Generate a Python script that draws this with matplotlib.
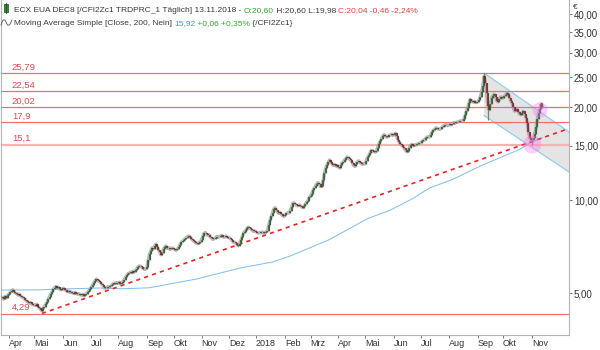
import numpy as np
import pandas as pd
import matplotlib.pyplot as plt
from matplotlib.patches import Polygon, Rectangle
from matplotlib.lines import Line2D

plt.rcParams['font.family'] = ['Liberation Sans Narrow', 'Liberation Sans', 'DejaVu Sans']

# ECX EUA Dec-18 daily closes, one row per month (Mar 24 2017 .. Nov 13 2018)
closes_by_month = [
    [4.85, 4.80, 4.78, 4.88, 4.82, 4.92],
    [4.95, 5.02, 5.08, 5.12, 5.05, 5.00, 4.98, 4.93, 4.96, 4.90, 4.86, 4.84, 4.80, 4.76, 4.70, 4.68, 4.64, 4.66, 4.60, 4.58],
    [4.58, 4.55, 4.60, 4.52, 4.47, 4.42, 4.38, 4.46, 4.52, 4.60, 4.66, 4.78, 4.86, 4.95, 5.05, 5.14, 5.20, 5.25, 5.18, 5.22, 5.15, 5.12, 5.16],
    [5.18, 5.12, 5.10, 5.05, 5.08, 5.02, 5.04, 5.00, 4.98, 5.02, 5.00, 4.96, 4.97, 4.94, 4.92, 4.95, 4.90, 4.93, 4.97, 5.02, 5.08, 5.14],
    [5.22, 5.30, 5.40, 5.48, 5.55, 5.50, 5.45, 5.42, 5.36, 5.30, 5.22, 5.18, 5.20, 5.24, 5.22, 5.26, 5.30, 5.35, 5.38, 5.36, 5.40],
    [5.38, 5.42, 5.36, 5.40, 5.44, 5.52, 5.62, 5.70, 5.78, 5.80, 5.84, 5.82, 5.88, 5.85, 5.92, 6.00, 6.08, 6.12, 6.10, 6.05, 6.00, 5.96, 5.98],
    [6.05, 6.40, 6.70, 6.85, 7.00, 6.95, 7.10, 7.20, 7.05, 6.90, 6.80, 6.65, 6.72, 6.95, 7.05, 7.10, 6.98, 7.02, 6.92, 6.96, 7.00],
    [6.95, 6.90, 6.88, 6.94, 7.05, 7.18, 7.30, 7.36, 7.42, 7.50, 7.55, 7.62, 7.65, 7.60, 7.50, 7.42, 7.36, 7.30, 7.26, 7.22, 7.28, 7.30],
    [7.45, 7.65, 7.80, 7.85, 7.75, 7.70, 7.72, 7.60, 7.52, 7.46, 7.50, 7.55, 7.62, 7.58, 7.60, 7.65, 7.68, 7.62, 7.58, 7.64, 7.60, 7.56],
    [7.55, 7.48, 7.40, 7.32, 7.30, 7.25, 7.18, 7.12, 7.20, 7.40, 7.62, 7.80, 7.90, 7.98, 8.10, 8.18, 8.12, 8.05, 7.98, 7.92, 7.95],
    [7.90, 7.85, 7.82, 7.84, 7.86, 7.88, 7.80, 7.85, 7.90, 7.95, 8.30, 8.60, 8.85, 9.10, 9.35, 9.45, 9.30, 9.15, 9.05, 9.12, 9.00, 8.90, 8.85],
    [8.95, 9.05, 9.10, 9.08, 9.25, 9.50, 9.75, 9.80, 9.70, 9.62, 9.58, 9.65, 9.60, 9.50, 9.45, 9.55, 9.70, 9.86, 9.95, 10.20],
    [10.30, 10.50, 10.75, 10.95, 11.10, 11.30, 11.40, 11.25, 11.05, 11.10, 11.60, 12.20, 12.70, 13.00, 13.25, 13.50, 13.30, 13.10, 12.95, 13.05, 12.90, 12.95],
    [12.80, 12.70, 12.95, 13.20, 13.30, 13.50, 13.65, 13.80, 13.70, 13.55, 13.45, 13.20, 12.95, 12.85, 13.10, 13.30, 13.40, 13.25, 13.15, 13.05, 13.10],
    [13.10, 13.40, 13.75, 13.95, 14.20, 14.50, 14.45, 14.35, 14.30, 14.40, 14.80, 15.20, 15.50, 15.80, 16.10, 16.30, 16.15, 16.00, 16.05, 16.20, 16.25, 16.35, 16.20],
    [16.30, 16.50, 16.10, 15.70, 15.40, 15.20, 15.05, 14.90, 14.70, 14.50, 14.35, 14.40, 14.80, 15.05, 15.15, 15.00, 15.10, 15.05, 15.15, 15.25, 15.30],
    [15.35, 15.50, 15.60, 15.70, 15.85, 16.00, 16.05, 16.00, 16.30, 16.60, 16.85, 16.95, 17.15, 17.10, 17.00, 16.95, 17.05, 17.25, 17.40, 17.50, 17.55, 17.45],
    [17.50, 17.60, 17.55, 17.70, 17.80, 17.75, 17.85, 17.90, 17.95, 18.05, 18.00, 18.10, 18.30, 18.80, 19.40, 19.90, 20.60, 21.20, 21.00, 20.80, 20.90, 20.70, 20.75],
    [20.80, 21.10, 21.60, 22.40, 23.50, 25.20, 24.00, 22.30, 20.20, 19.60, 20.50, 21.40, 21.80, 22.00, 21.60, 21.00, 20.80, 21.30, 21.60, 21.50],
    [21.40, 21.70, 21.90, 22.20, 22.10, 21.50, 21.00, 20.60, 20.00, 19.40, 19.60, 19.70, 19.30, 19.00, 18.90, 19.20, 19.40, 19.00, 18.50, 17.80, 16.60, 15.90, 15.70],
    [15.60, 15.90, 16.40, 17.20, 18.30, 19.10, 19.70, 20.50, 20.04],
]
first_day = "2017-03-24"
last_ohlc = (20.60, 20.60, 19.98, 20.04)

# candles with long shadows
wick_dates = ["2017-05-09", "2018-09-10", "2018-09-13", "2018-11-01"]
wick_lows = [4.29, 23.40, 18.20, 15.10]
wick_highs = [4.50, 25.79, 22.30, 15.90]

# 200-day simple moving average
ma_dates = ["2017-03-24", "2017-05-05", "2017-05-29", "2017-07-12", "2017-08-07", "2017-09-05",
            "2017-10-26", "2017-12-13", "2018-01-18", "2018-02-07", "2018-03-22", "2018-05-03",
            "2018-05-29", "2018-06-22", "2018-07-11", "2018-08-06", "2018-09-05", "2018-10-18",
            "2018-10-30", "2018-11-13"]
ma_values = [5.11, 5.12, 5.15, 5.19, 5.16, 5.20, 5.55, 6.02, 6.30, 6.59, 7.45, 8.71,
             9.28, 10.13, 10.95, 11.66, 12.90, 14.60, 15.30, 15.92]
ma_change, ma_change_pct = 0.06, 0.35

levels = [25.79, 22.54, 20.02, 17.9, 15.1, 4.29]

trend_dates = ["2017-05-09", "2018-12-11"]
trend_values = [4.29, 17.0]

channel_dates = ["2018-09-10", "2018-12-12"]
channel_upper = [25.79, 16.63]
channel_lower = [18.80, 12.33]

marker_dates = ["2018-11-01", "2018-11-09"]
marker_values = [15.15, 19.60]

month_labels = ["Apr", "Mai", "Jun", "Jul", "Aug", "Sep", "Okt", "Nov", "Dez", "2018",
                "Feb", "Mrz", "Apr", "Mai", "Jun", "Jul", "Aug", "Sep", "Okt", "Nov"]
month_starts = pd.date_range("2017-04-01", "2018-11-01", freq="MS")

price_ticks = [5, 10, 15, 20, 25, 30, 35, 40]


def xpos(d):
    d = np.busday_offset(np.datetime64(pd.Timestamp(d).date()), 0, roll="forward")
    return np.busday_count(first_day, d)


def de(v, nd=2):
    return f"{v:.{nd}f}".replace(".", ",")


closes = np.concatenate([np.array(m) for m in closes_by_month])
x = np.arange(len(closes))
opens = np.r_[closes[0], closes[:-1]]
opens[-1] = last_ohlc[0]
lows = np.minimum(opens, closes)
highs = np.maximum(opens, closes)
for d, lo, hi in zip(wick_dates, wick_lows, wick_highs):
    lows[xpos(d)] = lo
    highs[xpos(d)] = hi
highs[-1], lows[-1] = last_ohlc[1], last_ohlc[2]
up = closes >= opens

W, H = 600, 350
fig = plt.figure(figsize=(6, 3.5), dpi=100)
ax = fig.add_axes([1 / W, 15 / H, 568 / W, 335 / H])
ax.set_yscale("log")
ax.set_xlim(-0.3, 448.0)
ax.set_ylim(3.655, 44.5)

# channel from the September top
cx = [xpos(d) for d in channel_dates]
ax.add_patch(Polygon([(cx[0], channel_upper[0]), (cx[1], channel_upper[1]),
                      (cx[1], channel_lower[1]), (cx[0], channel_lower[0])],
                     closed=True, fc="#e4e4e4", ec="none", zorder=1))
ax.plot(cx, channel_upper, color="#8fd0f5", lw=0.9, zorder=2)
ax.plot(cx, channel_lower, color="#8fd0f5", lw=0.9, zorder=2)

# support / resistance levels
for lvl in levels:
    if lvl == 15.1:
        ax.axhline(lvl, color="#ffb0b0", lw=1.6, zorder=2)
    else:
        ax.axhline(lvl, color="#ff6b6b", lw=0.9, zorder=2)
    ax.annotate(str(lvl).replace(".", ","), xy=(0.019, lvl), xycoords=ax.get_yaxis_transform(),
                xytext=(0, 1.2), textcoords="offset points", va="bottom", ha="left",
                fontsize=6.8, color="#e8484f", zorder=6)

ax.plot([xpos(d) for d in ma_dates], ma_values, color="#7cbcf2", lw=0.7, zorder=3)
ax.plot([xpos(d) for d in trend_dates], trend_values, color="#f02020", lw=1.2,
        dashes=(2.5, 2.5), zorder=3)

# candles: grey shadow band, wicks, then bodies
ax.plot(x, closes, color="#9c9c9c", lw=2.4, alpha=0.75, solid_joinstyle="round", zorder=3.5)
ax.vlines(x, lows, highs, color="#7c7c7c", lw=0.9, zorder=4)
ax.vlines(x[up], opens[up], closes[up], color="#285e28", lw=1.1, zorder=5)
ax.vlines(x[~up], closes[~up], opens[~up], color="#7e2020", lw=1.1, zorder=5)

ax.scatter([xpos(d) for d in marker_dates], marker_values, s=[170, 120],
           color="#ff70f0", alpha=0.35, edgecolors="none", zorder=6)

# axes styling
ax.spines["top"].set_visible(False)
for side in ["left", "right", "bottom"]:
    ax.spines[side].set_color("#b4b4b4")
    ax.spines[side].set_linewidth(0.8)

ax.yaxis.tick_right()
ax.set_yticks(price_ticks)
ax.set_yticklabels([de(v) for v in price_ticks])
ax.yaxis.set_minor_locator(plt.NullLocator())
ax.tick_params(axis="y", which="major", length=2.5, width=0.6, color="#606060",
               labelsize=7, labelcolor="#333333", pad=1.0)

ax.set_xticks([xpos(d) for d in month_starts])
ax.set_xticklabels(month_labels)
ax.tick_params(axis="x", length=2, width=0.6, color="#606060",
               labelsize=6.5, labelcolor="#333333", pad=0.8)
for lab in ax.get_xticklabels():
    lab.set_ha("left")

fig.text(573 / W, 1 - 9 / H, "€", fontsize=6, color="#333333")

# header lines
renderer = fig.canvas.get_renderer()


def header(y_px, parts, x_px=14):
    for s, c in parts:
        t = fig.text(x_px / W, 1 - y_px / H, s, color=c, fontsize=6.0, va="baseline")
        x_px = t.get_window_extent(renderer=renderer).x1


dark, green, red, blue = "#3a3a3a", "#2fa82f", "#ef3b3b", "#3a9cf0"
o, h, l, c = last_ohlc
chg = c - closes[-2]
header(12, [
    ("ECX EUA DEC8 [/CFI2Zc1 TRDPRC_1 Täglich] 13.11.2018 - ", dark),
    (f"O:{de(o)}", green),
    (f" H:{de(h)} L:{de(l)} ", dark),
    (f"C:{de(c)} {de(chg)} {de(100 * chg / closes[-2])}%", red),
])
header(25, [
    ("Moving Average Simple [Close, 200, Nein] ", dark),
    (de(ma_values[-1]), blue),
    (f" +{de(ma_change)} +{de(ma_change_pct)}%", green),
    (" {/CFI2Zc1}", dark),
])

fig.add_artist(Line2D([5.5 / W, 5.5 / W], [1 - 3 / H, 1 - 13 / H], transform=fig.transFigure,
                      color="#1f4f1f", lw=0.6))
fig.add_artist(Rectangle((3.5 / W, 1 - 11.5 / H), 4 / W, 7 / H, transform=fig.transFigure,
                         fc="#2e8b2e", ec="#1f4f1f", lw=0.5))
fig.add_artist(Line2D(np.array([1, 3, 5, 7.5, 9.5, 12]) / W,
                      1 - np.array([25, 20, 20, 25, 25, 20]) / H,
                      transform=fig.transFigure, color="#555555", lw=0.6))

fig.savefig("out.png", dpi=100)
